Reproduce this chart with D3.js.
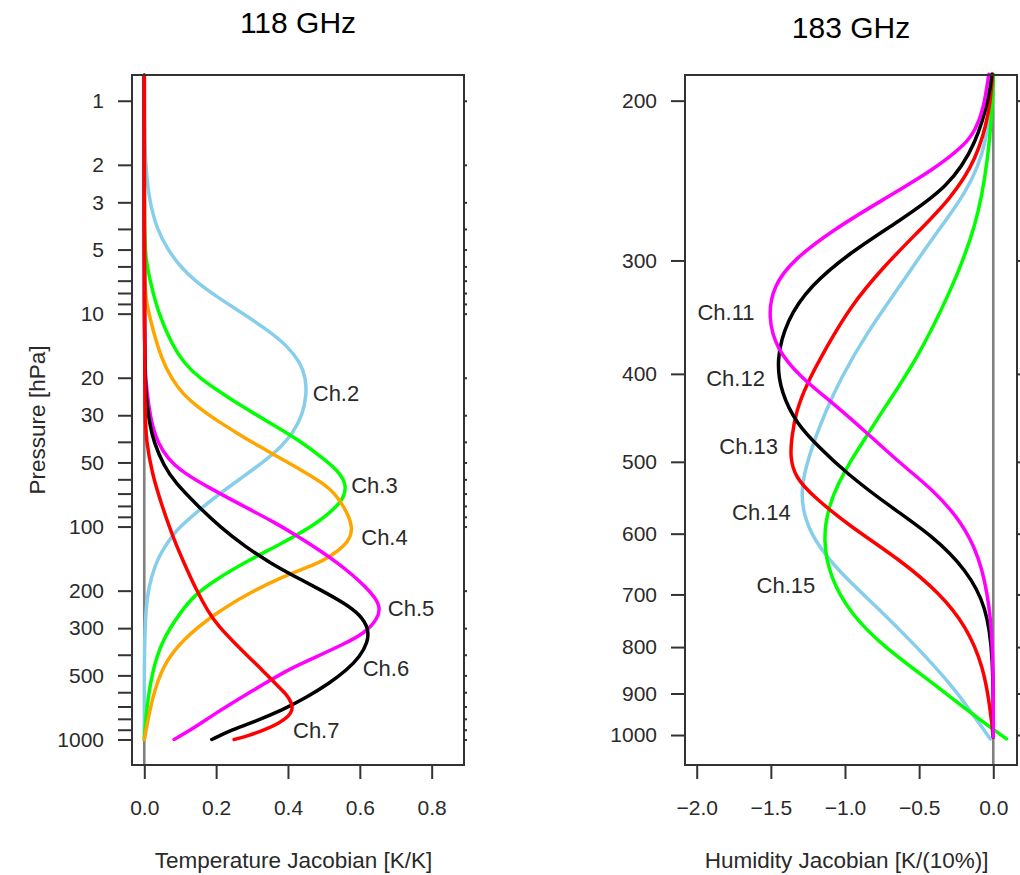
<!DOCTYPE html>
<html>
<head>
<meta charset="utf-8">
<script src="https://cdn.jsdelivr.net/npm/d3@7"></script>
<style>
  body { margin: 0; background: #fff; }
  svg text { font-family: "Liberation Sans", Arial, Helvetica, sans-serif; }
</style>
</head>
<body>
<svg id="chart" width="1020" height="875"></svg>
<script>
"use strict";

// 118 GHz temperature jacobians, [pressure hPa, K/K]
var ch2 = [[0.76,0],[1,0],[2,0.002],[3,0.015],[4,0.035],[5,0.065],[6,0.1],[7,0.14],[8.3,0.2],[10,0.275],
  [12,0.345],[14,0.395],[17,0.435],[20,0.449],[24,0.452],[30,0.44],[36,0.415],[42,0.383],[50,0.33],[60,0.265],
  [70,0.21],[84,0.151],[100,0.1],[112,0.075],[130,0.05],[150,0.031],[192,0.012],[250,0.004],[350,0.001],[500,0],[1000,0]];
var ch3 = [[0.76,0],[4,0],[5.5,0.003],[7.5,0.02],[10,0.04],[14,0.077],[17,0.11],[20,0.151],[25.5,0.244],[31.6,0.336],
  [39,0.429],[48.7,0.505],[56,0.545],[64,0.562],[72,0.557],[81,0.535],[97,0.48],[120,0.383],[144,0.29],[178,0.197],
  [210,0.14],[247,0.105],[341,0.049],[489,0.021],[700,0.007],[1000,0]];
var ch4 = [[0.76,0],[7,0],[8.5,0.004],[11.5,0.021],[16.5,0.049],[20,0.075],[23.7,0.105],[28,0.155],[31.6,0.2],[37,0.265],
  [42,0.32],[50,0.4],[56,0.45],[63,0.5],[70,0.53],[78,0.55],[90,0.57],[100,0.578],[112,0.575],[124,0.555],
  [137,0.52],[149,0.484],[172,0.383],[206,0.29],[256,0.197],[341,0.105],[456,0.049],[653,0.021],[850,0.008],[1000,0]];
var ch5 = [[0.76,0],[15,0],[20,0.003],[27,0.012],[34,0.023],[40,0.037],[48,0.065],[56,0.11],[65,0.175],[80,0.275],
  [95,0.36],[111.6,0.429],[130,0.49],[149,0.54],[170,0.582],[192,0.616],[215,0.642],[240,0.657],[270,0.65],[317,0.614],
  [360,0.55],[410,0.478],[470,0.4],[545,0.336],[650,0.26],[756,0.197],[880,0.14],[1000,0.083]];
var ch6 = [[0.76,0],[18,0],[25,0.005],[33,0.015],[40,0.026],[52,0.055],[62,0.085],[80.7,0.151],[100,0.21],[124,0.28],
  [148,0.35],[172,0.42],[200,0.495],[228,0.555],[260,0.602],[303,0.625],[350,0.622],[409,0.6],[470,0.565],[545,0.515],
  [630,0.455],[730,0.383],[820,0.31],[900,0.244],[1000,0.188]];
var ch7 = [[0.76,0],[10,0],[30,0.002],[39,0.005],[56,0.021],[80.7,0.05],[116,0.083],[150,0.112],[199,0.145],[250,0.177],
  [295,0.207],[350,0.25],[409,0.29],[475,0.33],[545,0.364],[610,0.395],[680,0.412],[730,0.412],[780,0.402],[840,0.375],
  [900,0.336],[960,0.29],[1000,0.25]];

// 183 GHz humidity jacobians, [pressure hPa, K/(10%)]
var ch11 = [[187,-0.03],[205,-0.067],[215,-0.12],[223,-0.18],[238.5,-0.405],[257,-0.742],[277.5,-1.079],[299.5,-1.349],
  [320,-1.483],[346,-1.52],[376,-1.461],[403,-1.303],[431,-1.079],[465,-0.85],[500,-0.64],[537,-0.405],[579,-0.225],
  [636,-0.09],[722,-0.022],[820,0],[1005,0]];
var ch12 = [[187,-0.01],[196,-0.022],[223,-0.112],[249,-0.3],[271,-0.629],[294,-0.966],[320,-1.236],[349,-1.393],
  [386,-1.465],[420,-1.43],[454,-1.326],[481,-1.18],[515,-0.989],[560,-0.697],[604,-0.405],[658,-0.18],[722,-0.045],
  [820,0],[1005,0]];
var ch13 = [[187,-0.005],[205,-0.022],[232.5,-0.112],[257,-0.292],[280,-0.517],[305,-0.742],[337.5,-0.966],[373.6,-1.124],
  [410,-1.258],[440,-1.33],[470,-1.36],[495,-1.37],[520,-1.335],[546,-1.214],[589,-0.966],[641,-0.629],[698,-0.36],
  [760,-0.18],[841,-0.067],[931,-0.022],[1005,0]];
var ch14 = [[187,-0.01],[222.8,-0.034],[253,-0.18],[282.5,-0.405],[320,-0.629],[360.5,-0.854],[406,-1.034],[440,-1.13],
  [470,-1.2],[510,-1.27],[540,-1.295],[570,-1.28],[609,-1.214],[663,-1.034],[722,-0.786],[799,-0.517],[885,-0.27],
  [962,-0.112],[1010,-0.02]];
var ch15 = [[187,0],[196,0],[232.5,-0.034],[275,-0.112],[326,-0.292],[386,-0.517],[438,-0.742],[473,-0.87],[498,-0.96],
  [530,-1.05],[560,-1.11],[609,-1.15],[670,-1.101],[734,-0.966],[799,-0.742],[877,-0.405],[938,-0.18],[975,-0.04],[1010,0.09]];

// channel label anchors, [name, value, pressure]
var tempLabels = [["Ch.2",0.469,23.7],["Ch.3",0.576,63.8],["Ch.4",0.604,111.6],["Ch.5",0.678,242],["Ch.6",0.608,463],["Ch.7",0.414,903]];
var humLabels = [["Ch.11",-1.61,341.6],["Ch.12",-1.54,404.3],["Ch.13",-1.452,481],["Ch.14",-1.366,567.5],["Ch.15",-1.2,683.5]];

// ticks
var tempPresMajor = [1,2,3,5,10,20,30,50,100,200,300,500,1000];
var tempPresMinor = [4,6,7,8,9,40,60,70,80,90,400,600,700,800,900];
var humPresTicks = [200,300,400,500,600,700,800,900,1000];
var tempXTicks = [0,0.2,0.4,0.6,0.8];
var humXTicks = [-2,-1.5,-1,-0.5,0];

var svg = d3.select("#chart");
var ink = "#2a2a2a";

function drawPanel(p) {
  var x = d3.scaleLinear().domain(p.xDomain).range([p.left, p.right]);
  var y = d3.scaleLog().domain(p.yDomain).range([p.top, p.bottom]);
  var g = svg.append("g");

  // zero line
  g.append("line")
    .attr("x1", x(0)).attr("x2", x(0))
    .attr("y1", p.top).attr("y2", p.bottom)
    .attr("stroke", "#808080").attr("stroke-width", 2.6);

  var line = d3.line()
    .x(function(d) { return x(d[1]); })
    .y(function(d) { return y(d[0]); })
    .curve(d3.curveBasis);

  p.series.forEach(function(s) {
    g.append("path")
      .attr("d", line(s.data))
      .attr("fill", "none")
      .attr("stroke", s.color)
      .attr("stroke-width", 3.5)
      .attr("stroke-linejoin", "round")
      .attr("stroke-linecap", "round");
  });

  g.selectAll("text.lab").data(p.labels).enter().append("text")
    .attr("class", "lab")
    .attr("x", function(d) { return x(d[1]); })
    .attr("y", function(d) { return y(d[2]); })
    .attr("dy", "0.36em")
    .attr("font-size", 22)
    .attr("fill", ink)
    .attr("text-anchor", p.labelAnchor)
    .text(function(d) { return d[0]; });

  // box
  g.append("rect")
    .attr("x", p.left).attr("y", p.top)
    .attr("width", p.right - p.left).attr("height", p.bottom - p.top)
    .attr("fill", "none").attr("stroke", "#333").attr("stroke-width", 2);

  var fmtY = function(d) { return p.yLabels.indexOf(d) >= 0 ? d : ""; };

  var ya = g.append("g").attr("transform", "translate(" + p.left + ",0)")
    .call(d3.axisLeft(y).tickValues(p.yTicks).tickFormat(fmtY).tickSize(14).tickPadding(14));
  var yr = g.append("g").attr("transform", "translate(" + p.right + ",0)")
    .call(d3.axisRight(y).tickValues(p.yTicks).tickFormat("").tickSize(3));
  var xa = g.append("g").attr("transform", "translate(0," + p.bottom + ")")
    .call(d3.axisBottom(x).tickValues(p.xTicks).tickSize(14).tickPadding(21)
      .tickFormat(function(d) { return d3.format(".1f")(d).replace("-", "\u2212"); }));

  [ya, yr, xa].forEach(function(a) {
    a.select(".domain").remove();
    a.selectAll(".tick line").attr("stroke", "#333").attr("stroke-width", 2);
    a.selectAll(".tick text").attr("font-size", 21).attr("fill", ink)
      .style("font-family", "'Liberation Sans', Arial, Helvetica, sans-serif");
  });

  g.append("text")
    .attr("x", p.xTitleX).attr("y", 868)
    .attr("text-anchor", "middle")
    .attr("font-size", 22.5).attr("fill", ink)
    .text(p.xTitle);

  g.append("text")
    .attr("x", (p.left + p.right) / 2).attr("y", p.headY)
    .attr("text-anchor", "middle")
    .attr("font-size", 30).attr("fill", "#000")
    .text(p.head);

  return g;
}

drawPanel({
  left: 132, right: 464, top: 75, bottom: 765,
  xDomain: [-0.0342, 0.890], yDomain: [0.757, 1318],
  yTicks: tempPresMajor.concat(tempPresMinor), yLabels: tempPresMajor,
  xTicks: tempXTicks,
  series: [
    {data: ch2, color: "#87ceeb"},
    {data: ch3, color: "#00ff00"},
    {data: ch4, color: "#ffa500"},
    {data: ch5, color: "#ff00ff"},
    {data: ch6, color: "#000000"},
    {data: ch7, color: "#ff0000"}
  ],
  labels: tempLabels, labelAnchor: "start",
  xTitle: "Temperature Jacobian [K/K]", xTitleX: 293.5,
  head: "118 GHz", headY: 33
});

drawPanel({
  left: 685, right: 1017, top: 75, bottom: 765,
  xDomain: [-2.079, 0.160], yDomain: [187.4, 1079],
  yTicks: humPresTicks, yLabels: humPresTicks,
  xTicks: humXTicks,
  series: [
    {data: ch14, color: "#87ceeb"},
    {data: ch15, color: "#00ff00"},
    {data: ch13, color: "#ff0000"},
    {data: ch12, color: "#000000"},
    {data: ch11, color: "#ff00ff"}
  ],
  labels: humLabels, labelAnchor: "end",
  xTitle: "Humidity Jacobian [K/(10%)]", xTitleX: 846.7,
  head: "183 GHz", headY: 38
});

svg.append("text")
  .attr("transform", "translate(45,420) rotate(-90)")
  .attr("text-anchor", "middle")
  .attr("font-size", 22.5).attr("fill", ink)
  .text("Pressure [hPa]");
</script>
</body>
</html>
